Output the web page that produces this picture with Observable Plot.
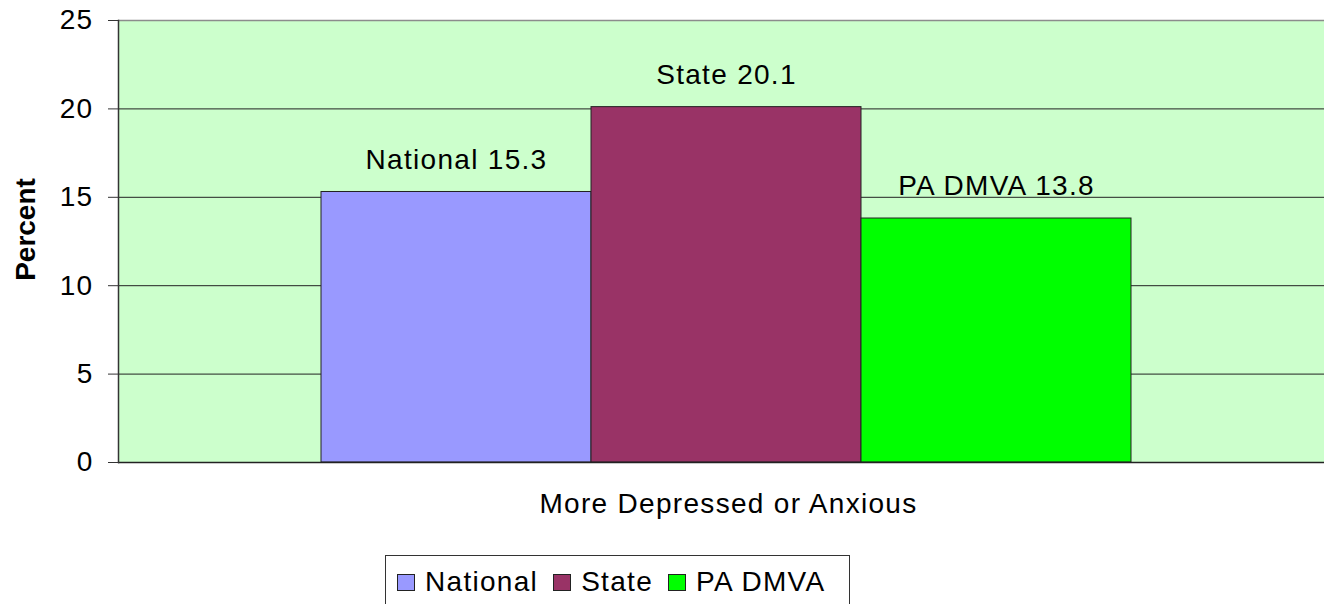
<!DOCTYPE html>
<html>
<head>
<meta charset="utf-8">
<script src="https://cdn.jsdelivr.net/npm/d3@7"></script>
<script src="https://cdn.jsdelivr.net/npm/@observablehq/plot@0.6"></script>
<style>
  html, body { margin: 0; padding: 0; background: #fff; }
  body { width: 1324px; height: 604px; overflow: hidden; font-family: "Liberation Sans", Arial, sans-serif; }
  #legend {
    margin-left: 385px; margin-top: 10px; width: 465px; height: 70px;
    border: 1px solid #333; box-sizing: border-box;
    display: flex; align-items: flex-start; padding: 10px 0 0 11px;
    font-size: 28px; letter-spacing: 1.3px; color: #000;
  }
  .item { display: flex; align-items: center; height: 32px; margin-right: 15px; }
  .sw { width: 16px; height: 15px; border: 1px solid #222; margin-right: 10px; }
</style>
</head>
<body>
<div id="chart"></div>
<div id="legend"></div>
<script>
const series = ["National", "State", "PA DMVA"];
const values = [15.3, 20.1, 13.8];
const colors = ["#9999ff", "#993366", "#00ff00"];
const category = "More Depressed or Anxious";
const yTicks = [0, 5, 10, 15, 20, 25];
const yLabel = "Percent";

const data = series.map((s, i) => ({series: s, value: values[i]}));

const chart = Plot.plot({
  width: 1324,
  height: 545,
  marginLeft: 118,
  marginRight: 0,
  marginTop: 20,
  marginBottom: 83,
  style: "font-family: 'Liberation Sans', Arial, sans-serif; font-size: 28px; letter-spacing: 1.3px; color: #000; background: #fff;",
  x: {domain: series, range: [320, 1132], padding: 0, axis: null},
  y: {domain: [0, 25], axis: null},
  color: {domain: series, range: colors},
  marks: [
    Plot.frame({fill: "#ccffcc", stroke: null}),
    Plot.ruleY(yTicks.filter(t => t > 0 && t < 25), {stroke: "#222", strokeWidth: 1}),
    Plot.ruleY([25], {stroke: "#8c8c8c", strokeWidth: 1.5}),
    Plot.barY(data, {x: "series", y: "value", fill: "series", stroke: "#222", strokeWidth: 1}),
    Plot.ruleY([0], {stroke: "#222", strokeWidth: 1.5}),
    Plot.frame({anchor: "left", stroke: "#333", strokeWidth: 1.5}),
    Plot.axisY({ticks: yTicks, tickSize: 10, tickPadding: 15, label: null, tickFormat: d => d, stroke: "#333"}),
    Plot.text(data, {x: "series", y: "value", text: d => `${d.series} ${d.value}`, dy: -32, fill: "#000"}),
    Plot.text([category], {frameAnchor: "bottom", dx: 7, dy: 50, fill: "#000"}),
    Plot.text([yLabel], {frameAnchor: "left", textAnchor: "middle", rotate: -90, dx: -92, dy: -12, fontWeight: "bold", fill: "#000"})
  ]
});

d3.select(chart).selectAll("text")
  .filter(function() { return this.textContent === yLabel; })
  .style("letter-spacing", "0px");

document.getElementById("chart").appendChild(chart);

const legend = d3.select("#legend");
series.forEach((s, i) => {
  const item = legend.append("div").attr("class", "item");
  item.append("div").attr("class", "sw").style("background", colors[i]);
  item.append("span").text(s);
});
</script>
</body>
</html>
